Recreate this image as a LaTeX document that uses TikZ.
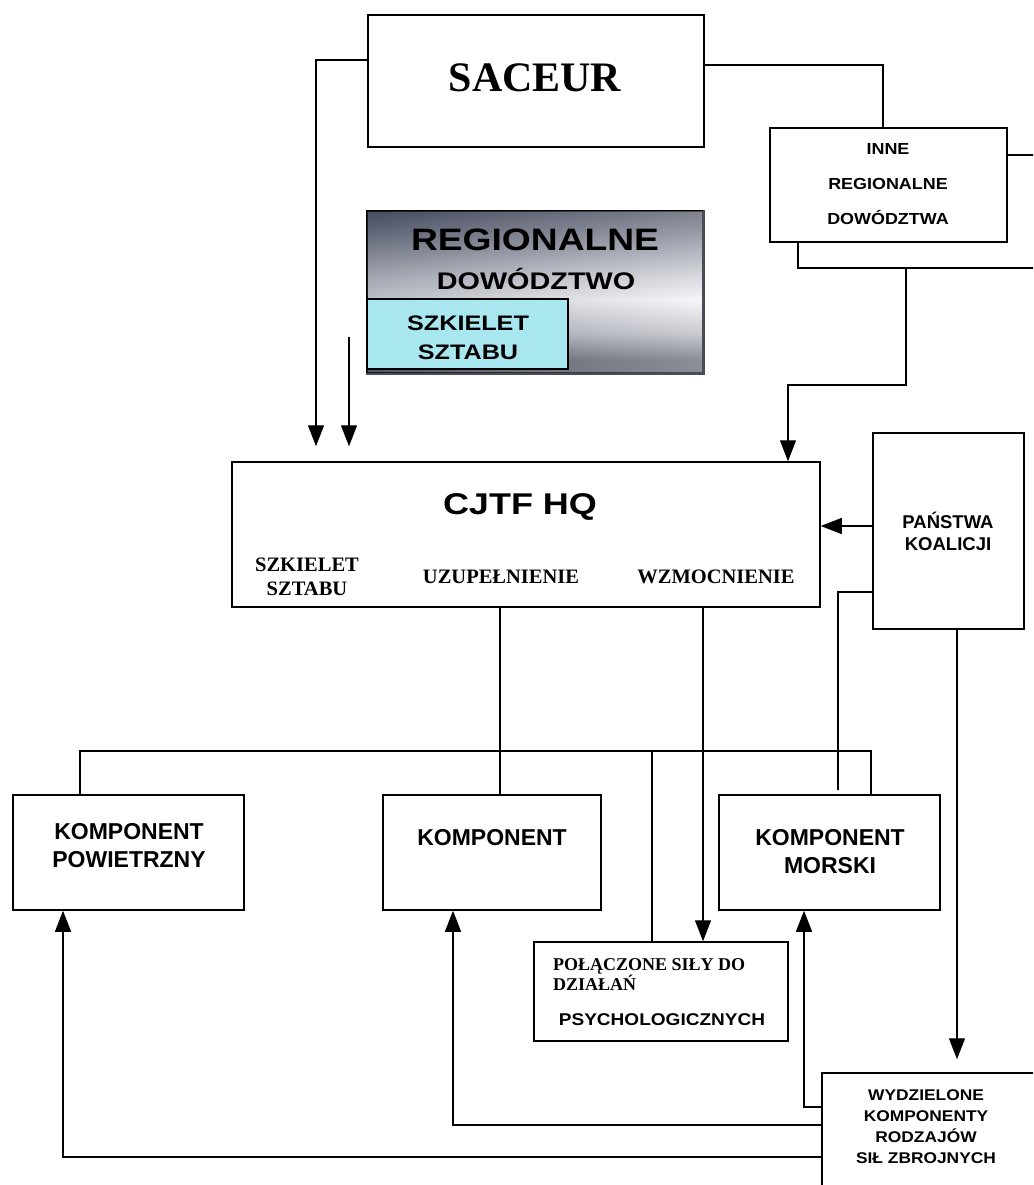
\documentclass[tikz,border=0pt]{standalone}
\usepackage{fontspec}
\setmainfont{Liberation Serif}
\newfontfamily\sfA{Liberation Sans}
\newfontfamily\sfB[FakeStretch=1.12]{Liberation Sans}
\newfontfamily\sfC[FakeStretch=1.2]{Liberation Sans}
\usetikzlibrary{arrows.meta,calc}
\definecolor{cyanbox}{HTML}{A9E7F0}
\definecolor{gA}{HTML}{5A5E68}
\definecolor{gA2}{HTML}{B5B8C0}
\definecolor{gB}{HTML}{F2F3F6}
\definecolor{gC}{HTML}{C8CBD2}
\definecolor{gC2}{HTML}{737888}
\definecolor{gD}{HTML}{474C5E}
\pgfdeclareverticalshading{metal}{100bp}{color(0bp)=(gA); color(25bp)=(gA); color(29bp)=(gA); color(37.5bp)=(gA2); color(47.5bp)=(gB); color(55bp)=(gC); color(67.5bp)=(gC2); color(75bp)=(gD); color(100bp)=(gD)}
\begin{document}
\begin{tikzpicture}[x=1pt,y=-1pt,
  box/.style={draw=black, line width=1.5pt, fill=white, rectangle, inner sep=0pt},
  conn/.style={line width=1.3pt},
  arr/.style={conn, -{Triangle[width=16pt,length=21pt]}},
  txt/.style={inner sep=0pt, align=center, text=black},
  serifbig/.style={font=\fontsize{42}{48}\selectfont\bfseries},
  seriflbl/.style={font=\fontsize{20.5}{24}\selectfont\bfseries},
  serifsm/.style={font=\fontsize{18}{20}\selectfont\bfseries},
]
\useasboundingbox (0,0) rectangle (1033,1185);
\fill[white] (0,0) rectangle (1033,1185);
\begin{scope}
\clip (0,0) rectangle (1033,1185);

% ---------- boxes ----------
\node[box, minimum width=336pt, minimum height=132pt] (saceur) at (536,81) {};
\node[box, minimum width=242pt, minimum height=113pt] (innb) at (919,211.5) {};
\node[box, minimum width=237pt, minimum height=114pt] (inne) at (888.5,185) {};

\node[draw=black, line width=1.5pt, shade, shading=metal, rectangle, inner sep=0pt,
      minimum width=336pt, minimum height=162pt] (reg) at (535,292) {};
\path[left color=gD, right color=white, fill opacity=0.3] (reg.north west) rectangle (reg.south east);
\draw[line width=1.5pt] (reg.north west) rectangle (reg.south east);
\draw[line width=2.5pt, gD] (reg.south west) -- (reg.south east) -- (reg.north east);
\node[draw=black, line width=1.5pt, fill=cyanbox, rectangle, inner sep=0pt,
      minimum width=201pt, minimum height=70pt] (szk) at (467.5,334) {};

\node[box, minimum width=588pt, minimum height=145pt] (cjtf) at (526,534.5) {};
\node[box, minimum width=151pt, minimum height=196pt] (pan) at (948.5,531) {};

\node[box, minimum width=231pt, minimum height=115pt] (kpow) at (128.5,852.5) {};
\node[box, minimum width=218pt, minimum height=115pt] (kmid) at (492,852.5) {};
\node[box, minimum width=221pt, minimum height=115pt] (kmor) at (829.5,852.5) {};
\node[box, minimum width=254pt, minimum height=99pt] (psych) at (661,991.5) {};
\node[box, minimum width=218pt, minimum height=117pt] (wyd) at (931,1131.5) {};

% ---------- texts ----------
\node[txt, serifbig] (saceurt) at (535,78) {SACEUR};
\node[txt, font=\sfB\fontsize{16}{35}\selectfont\bfseries] (innet) at (888,184.5) {INNE\\REGIONALNE\\DOWÓDZTWA};
\node[txt, font=\sfC\fontsize{31}{36}\selectfont\bfseries] (regt1) at (535,240) {REGIONALNE};
\node[txt, font=\sfC\fontsize{24}{28}\selectfont\bfseries] (regt2) at (536,279) {DOWÓDZTWO};
\node[txt, font=\sfC\fontsize{21}{29}\selectfont\bfseries] (szkt) at (468,338) {SZKIELET\\SZTABU};

\node[txt, font=\sfC\fontsize{30}{34}\selectfont\bfseries] (cjtft) at (520,507) {CJTF HQ};
\node[txt, seriflbl] (cl1) at (307,577) {SZKIELET\\SZTABU};
\node[txt, seriflbl] (cl2) at (501,577) {UZUPEŁNIENIE};
\node[txt, seriflbl] (cl3) at (716,577) {WZMOCNIENIE};
\node[txt, font=\sfA\fontsize{18.5}{22}\selectfont\bfseries] (pant) at (948,531) {PAŃSTWA\\KOALICJI};

\node[txt, font=\sfA\fontsize{23}{28}\selectfont\bfseries] (kpowt) at (129,846) {KOMPONENT\\POWIETRZNY};
\node[txt, font=\sfA\fontsize{23}{28}\selectfont\bfseries] (kmidt) at (492,838) {KOMPONENT};
\node[txt, font=\sfA\fontsize{23}{28}\selectfont\bfseries] (kmort) at (830,852) {KOMPONENT\\MORSKI};

\node[txt, serifsm, anchor=west, align=left] (ps1) at (553,975) {POŁĄCZONE SIŁY DO\\DZIAŁAŃ};
\node[txt, font=\sfB\fontsize{17}{20}\selectfont\bfseries] (ps2) at (662,1020) {PSYCHOLOGICZNYCH};
\node[txt, font=\sfB\fontsize{15.5}{21}\selectfont\bfseries] (wydt) at (926,1127) {WYDZIELONE\\KOMPONENTY\\RODZAJÓW\\SIŁ ZBROJNYCH};

% ---------- connectors ----------
\coordinate (p1) at (316,60);
\draw[arr] (saceur.west |- p1) -- (p1) -- ($(p1 |- cjtf.north)+(0,-15)$);
\coordinate (p2) at (349,337);
\draw[arr] (p2) -- ($(p2 |- cjtf.north)+(0,-15)$);
\coordinate (p3) at (883,65);
\draw[conn] (saceur.east |- p3) -- (p3) -- (p3 |- inne.north);
\coordinate (p4) at (906,385);
\coordinate (p4b) at (788,385);
\draw[arr] (p4 |- innb.south) -- (p4) -- (p4b) -- (p4b |- cjtf.north);
\coordinate (p5) at ($(pan.west)+(0,-5)$);
\draw[arr] (p5) -- (p5 -| cjtf.east);
\coordinate (p6) at (838,592);
\coordinate (p6b) at (838,790);
\draw[conn] (p6 -| pan.west) -- (p6) -- (p6b);
\coordinate (p7) at (957,0);
\draw[arr] (p7 |- pan.south) -- ($(p7 |- wyd.north)+(0,-13)$);
\coordinate (p8) at (500,0);
\draw[conn] (p8 |- cjtf.south) -- (p8 |- kmid.north);
\coordinate (bl) at (80,751);
\coordinate (br) at (871,751);
\draw[conn] (bl |- kpow.north) -- (bl) -- (br) -- (br |- kmor.north);
\coordinate (p10) at (652,751);
\draw[conn] (p10) -- (p10 |- psych.north);
\coordinate (p11) at (703,0);
\draw[arr] (p11 |- cjtf.south) -- (p11 |- psych.north);
\coordinate (q1) at (63,1157);
\draw[arr] (q1 -| wyd.west) -- (q1) -- (q1 |- kpow.south);
\coordinate (q2) at (453,1125);
\draw[arr] (q2 -| wyd.west) -- (q2) -- (q2 |- kmid.south);
\coordinate (q3) at (804,1107);
\draw[arr] (q3 -| wyd.west) -- (q3) -- (q3 |- kmor.south);
\end{scope}
\end{tikzpicture}
\end{document}
